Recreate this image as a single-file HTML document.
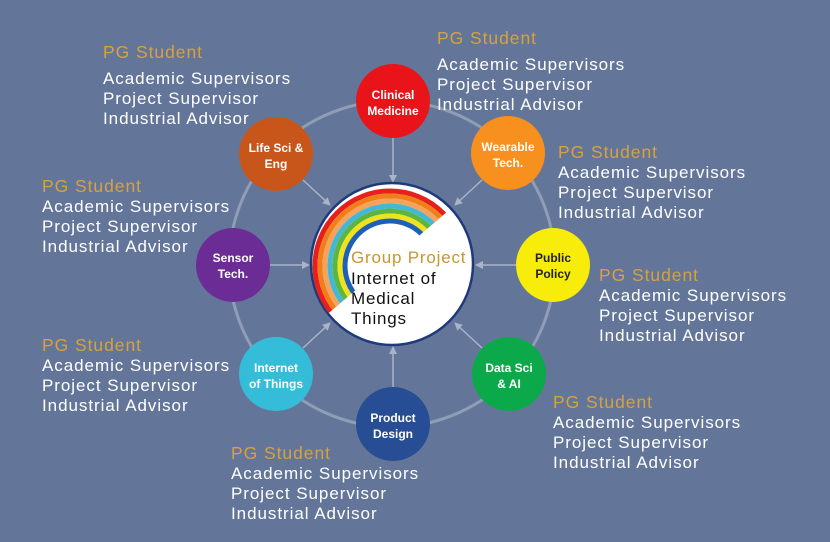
<!DOCTYPE html>
<html><head><meta charset="utf-8"><style>
body{margin:0;width:830px;height:542px;background:#63769a;overflow:hidden;position:relative;font-family:"Liberation Sans",sans-serif}
.b{position:absolute;color:#fff;font-size:17px;line-height:20px;white-space:nowrap;letter-spacing:0.95px}
.b .h{color:#d7a23c;margin-bottom:7px;font-size:17.5px}
svg{position:absolute;left:0;top:0}
</style></head><body>
<svg width="830" height="542" viewBox="0 0 830 542">
<defs>
<marker id="a" markerWidth="8" markerHeight="8" refX="7" refY="4" orient="auto" markerUnits="userSpaceOnUse"><path d="M0,0 L8,4 L0,8 z" fill="#a9b4c8"/></marker>
<clipPath id="c"><polygon points="300,160 470,160 455,205 330,312 300,330"/></clipPath>
</defs>
<circle cx="392" cy="264" r="163" fill="none" stroke="#8f9db6" stroke-width="3"/>
<g stroke="#a9b4c8" stroke-width="1.5" marker-end="url(#a)">
<line x1="393" y1="137" x2="393" y2="182"/>
<line x1="482" y1="180" x2="455" y2="205"/>
<line x1="516" y1="265" x2="476" y2="265"/>
<line x1="482" y1="348" x2="455" y2="323"/>
<line x1="393" y1="388" x2="393" y2="347"/>
<line x1="303" y1="348" x2="330" y2="323"/>
<line x1="270" y1="265" x2="309" y2="265"/>
<line x1="303" y1="180" x2="330" y2="205"/>
</g>
<circle cx="392" cy="264" r="81" fill="#fff" stroke="#1f3a7a" stroke-width="2.5"/>
<g clip-path="url(#c)" fill="none" stroke-width="5">
<circle cx="390" cy="266" r="75" stroke="#e8201c"/>
<circle cx="390" cy="266" r="70" stroke="#f07f1a"/>
<circle cx="390" cy="266" r="65" stroke="#f5a25a"/>
<circle cx="390" cy="266" r="60" stroke="#43b7d6"/>
<circle cx="390" cy="266" r="55" stroke="#5db540"/>
<circle cx="390" cy="266" r="50" stroke="#f0e21c"/>
<circle cx="390" cy="266" r="45" stroke="#1e5fb8"/>
</g>
<g font-family="Liberation Sans,sans-serif" font-size="12" font-weight="bold" fill="#fff" text-anchor="middle">
<circle cx="393" cy="101" r="37" fill="#e8141a"/><text x="393" y="99">Clinical</text><text x="393" y="115">Medicine</text>
<circle cx="508" cy="153" r="37" fill="#f7901e"/><text x="508" y="151">Wearable</text><text x="508" y="167">Tech.</text>
<circle cx="553" cy="265" r="37" fill="#f7ec0a"/><text x="553" y="262" fill="#222">Public</text><text x="553" y="278" fill="#222">Policy</text>
<circle cx="509" cy="374" r="37" fill="#0ca94a"/><text x="509" y="372">Data Sci</text><text x="509" y="388">&amp; AI</text>
<circle cx="393" cy="424" r="37" fill="#274d94"/><text x="393" y="422">Product</text><text x="393" y="438">Design</text>
<circle cx="276" cy="374" r="37" fill="#35bcd8"/><text x="276" y="372">Internet</text><text x="276" y="388">of Things</text>
<circle cx="233" cy="265" r="37" fill="#6c2c96"/><text x="233" y="262">Sensor</text><text x="233" y="278">Tech.</text>
<circle cx="276" cy="154" r="37" fill="#c8561a"/><text x="276" y="152">Life Sci &amp;</text><text x="276" y="168">Eng</text>
</g>
<text x="351" y="263" font-family="Liberation Sans,sans-serif" font-size="17" letter-spacing="0.8" fill="#c9962f">Group Project</text>
<g font-family="Liberation Sans,sans-serif" font-size="17" letter-spacing="0.8" fill="#111">
<text x="351" y="284">Internet of</text><text x="351" y="304">Medical</text><text x="351" y="324">Things</text></g>
</svg>
<div class="b" style="left:103px;top:42px"><div class="h">PG Student</div>Academic Supervisors<br>Project Supervisor<br>Industrial Advisor</div>
<div class="b" style="left:437px;top:28px"><div class="h">PG Student</div>Academic Supervisors<br>Project Supervisor<br>Industrial Advisor</div>
<div class="b" style="left:558px;top:142px"><div class="h" style="margin-bottom:1px">PG Student</div>Academic Supervisors<br>Project Supervisor<br>Industrial Advisor</div>
<div class="b" style="left:42px;top:176px"><div class="h" style="margin-bottom:1px">PG Student</div>Academic Supervisors<br>Project Supervisor<br>Industrial Advisor</div>
<div class="b" style="left:599px;top:265px"><div class="h" style="margin-bottom:1px">PG Student</div>Academic Supervisors<br>Project Supervisor<br>Industrial Advisor</div>
<div class="b" style="left:42px;top:335px"><div class="h" style="margin-bottom:1px">PG Student</div>Academic Supervisors<br>Project Supervisor<br>Industrial Advisor</div>
<div class="b" style="left:553px;top:392px"><div class="h" style="margin-bottom:1px">PG Student</div>Academic Supervisors<br>Project Supervisor<br>Industrial Advisor</div>
<div class="b" style="left:231px;top:443px"><div class="h" style="margin-bottom:1px">PG Student</div>Academic Supervisors<br>Project Supervisor<br>Industrial Advisor</div>
</body></html>
